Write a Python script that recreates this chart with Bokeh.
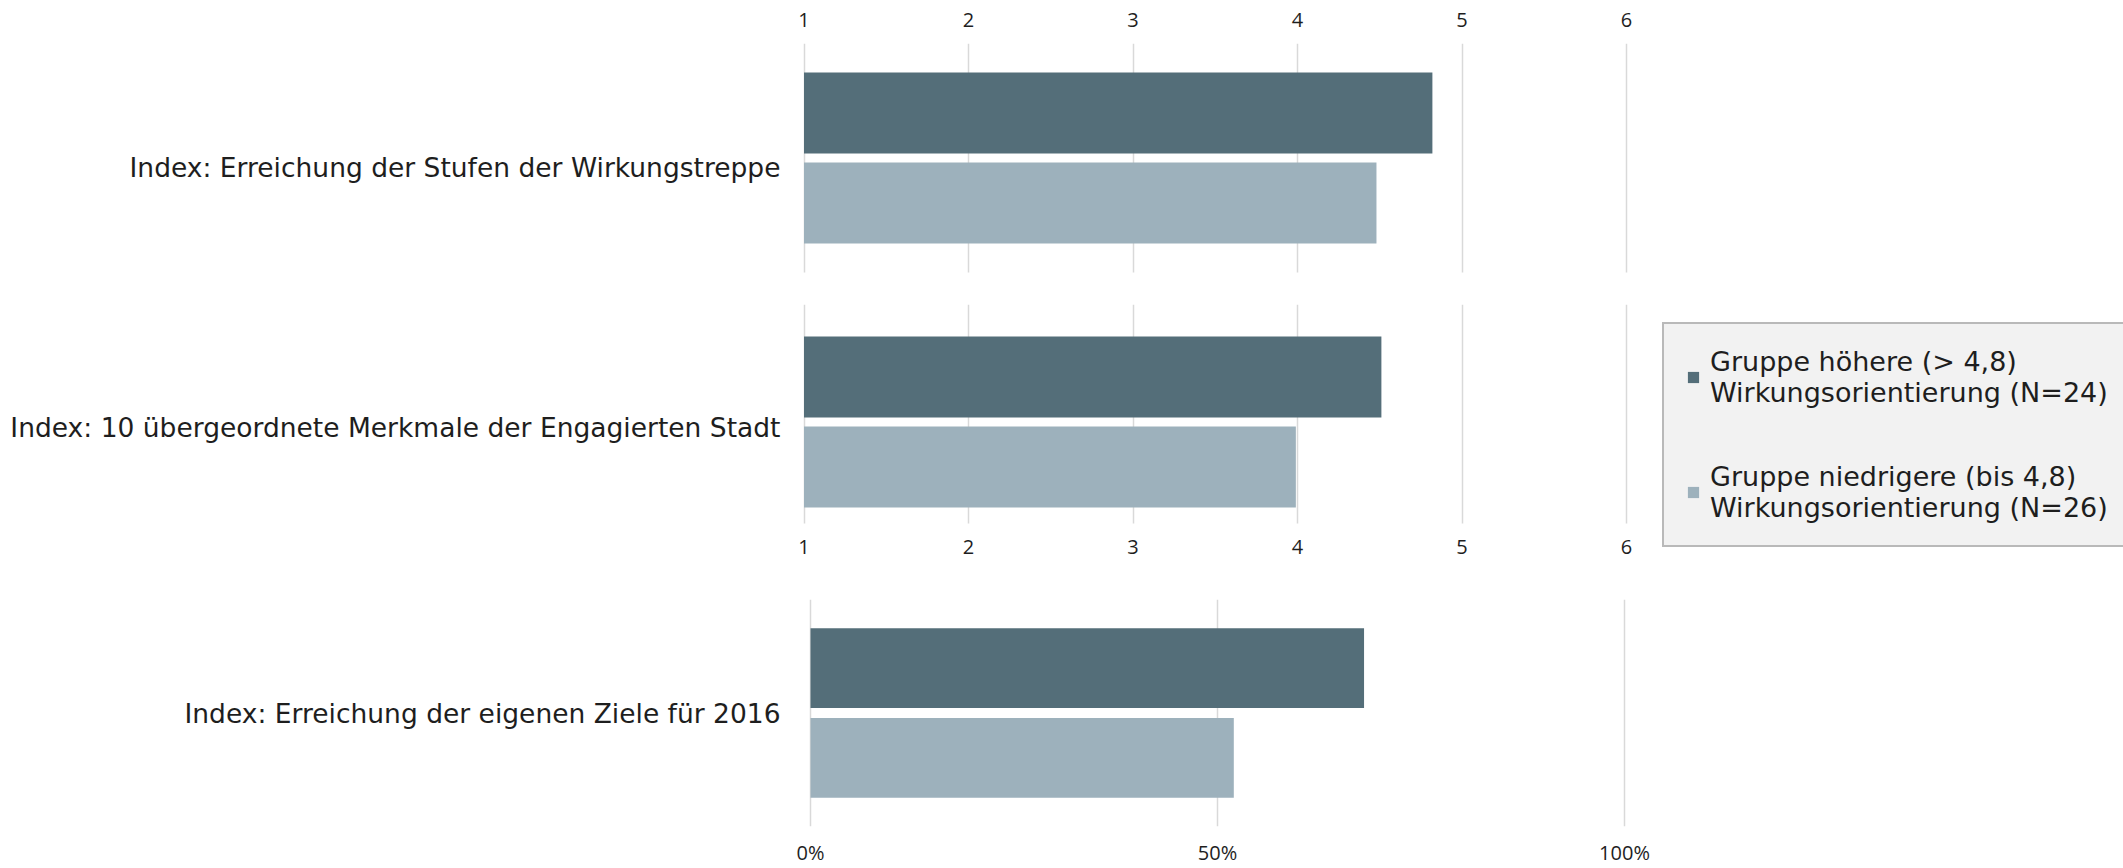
from bokeh.plotting import figure
from bokeh.models import (ColumnDataSource, Range1d, FactorRange, FixedTicker, Grid,
                          NumeralTickFormatter, Legend, LegendItem)
from bokeh.transform import dodge
from bokeh.embed import file_html
from bokeh.resources import INLINE

# ---- data ----
categories = [
    "Index: Erreichung der Stufen der Wirkungstreppe",
    "Index: 10 übergeordnete Merkmale der Engagierten Stadt",
    "Index: Erreichung der eigenen Ziele für 2016",
]
series_names = [
    "Gruppe höhere (> 4,8)\nWirkungsorientierung (N=24)",
    "Gruppe niedrigere (bis 4,8)\nWirkungsorientierung (N=26)",
]
hoehere = [4.82, 4.51, 0.68]
niedrigere = [4.48, 3.99, 0.52]
scale_ticks = [1, 2, 3, 4, 5, 6]
pct_ticks = [0, 0.5, 1]

DARK = "#546e79"
LIGHT = "#9db1bc"
GRID = "#d9d9d9"
TXT = "#1e1e1e"
W = 2123
B_LEFT = 800
B_RIGHT = 494
HAS_CB = "cross_bounds" in Grid.properties()


def make_panel(i, height, b_top, b_bottom, b_right, xr, base, ticks,
               axis_loc, off_hi, off_lo, bar_h, standoff, cross=None):
    p = figure(width=W, height=height,
               y_range=FactorRange(factors=[categories[i]], range_padding=0),
               x_range=xr, x_axis_location=axis_loc, output_backend="svg",
               toolbar_location=None, min_border_top=b_top, min_border_bottom=b_bottom,
               min_border_left=B_LEFT, min_border_right=b_right)
    src = ColumnDataSource(dict(cat=[categories[i]], hi=[hoehere[i]], lo=[niedrigere[i]]))
    r_hi = p.hbar(y=dodge("cat", off_hi, range=p.y_range), left=base, right="hi",
                  height=bar_h, fill_color=DARK, line_color=None, source=src)
    r_lo = p.hbar(y=dodge("cat", off_lo, range=p.y_range), left=base, right="lo",
                  height=bar_h, fill_color=LIGHT, line_color=None, source=src)
    p.outline_line_color = None
    p.ygrid.grid_line_color = None
    p.xgrid.grid_line_color = GRID
    p.xgrid.grid_line_width = 1.5
    if cross is not None:
        p.xgrid.cross_bounds = cross
    p.xaxis.ticker = FixedTicker(ticks=ticks)
    p.xaxis.axis_line_color = None
    p.xaxis.major_tick_line_color = None
    p.xaxis.minor_tick_line_color = None
    p.xaxis.major_tick_out = 0
    p.xaxis.major_tick_in = 0
    p.xaxis.minor_tick_out = 0
    p.xaxis.major_label_text_font = "Open Sans"
    p.xaxis.major_label_text_font_size = "20px"
    p.xaxis.major_label_text_color = TXT
    p.xaxis.major_label_standoff = standoff
    p.yaxis.axis_line_color = None
    p.yaxis.major_tick_line_color = None
    p.yaxis.minor_tick_line_color = None
    p.yaxis.major_tick_out = 0
    p.yaxis.major_tick_in = 0
    p.yaxis.major_label_text_font = "DejaVu Sans"
    p.yaxis.major_label_text_font_size = "26.5px"
    p.yaxis.major_label_text_color = TXT
    p.yaxis.major_label_standoff = 20
    return p, r_hi, r_lo


if HAS_CB:
    # frames reach a bit below the grid lines, so that the label and legend sit as in the original
    p1, _, _ = make_panel(0, 290, 43, 0, B_RIGHT, Range1d(0.9787, 6.0182), 1, scale_ticks,
                          "above", 0.2186, -0.1457, 0.328, 17, cross=(0.0729, 1.0))
    p2, r2h, r2l = make_panel(1, 288, 14, 29, 0, Range1d(0.9787, 9.0213), 1, scale_ticks,
                              "below", 0.2041, -0.1633, 0.3306, -10, cross=(0.1061, 1.0))
    leg_loc = (862, 2)
else:
    p1, _, _ = make_panel(0, 290, 43, 18, B_RIGHT, Range1d(0.9787, 6.0182), 1, scale_ticks,
                          "above", 0.1965, -0.1965, 0.354, 17)
    p2, r2h, r2l = make_panel(1, 288, 14, 55, 0, Range1d(0.9787, 9.0213), 1, scale_ticks,
                              "below", 0.169, -0.242, 0.37, 22)
    leg_loc = (862, -24)

p3, _, _ = make_panel(2, 290, 21, 39, B_RIGHT, Range1d(-0.0123, 1.0061), 0, pct_ticks,
                      "below", 0.1978, -0.1978, 0.352, 12)
p3.xaxis.formatter = NumeralTickFormatter(format="0%")

leg = Legend(items=[LegendItem(label=series_names[0], renderers=[r2h]),
                    LegendItem(label=series_names[1], renderers=[r2l])])
leg.location = leg_loc
leg.label_text_font = "DejaVu Sans"
leg.label_text_font_size = "27px"
leg.label_text_color = TXT
leg.label_text_line_height = 1.12
leg.glyph_width = 14
leg.glyph_height = 14
leg.label_standoff = 10
leg.padding = 22
leg.spacing = 53
leg.margin = 0
leg.border_line_color = "#7f7f7f"
leg.border_line_width = 2
leg.background_fill_color = "#f2f2f2"
leg.background_fill_alpha = 1
p2.add_layout(leg, "center")

open("out.html", "w").write(file_html([p1, p2, p3], INLINE))
